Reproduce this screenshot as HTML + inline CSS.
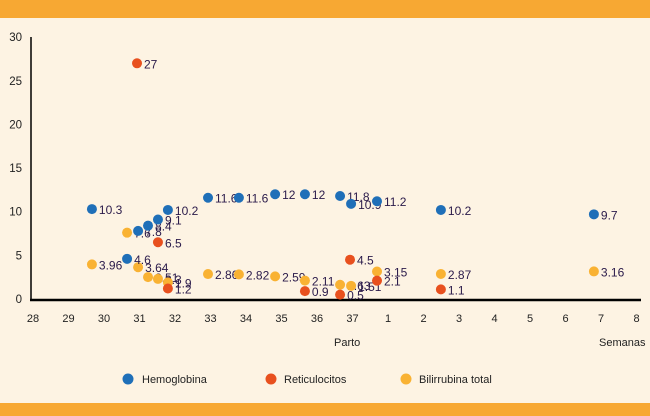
<!DOCTYPE html>
<html><head><meta charset="utf-8"><style>
body{margin:0;background:#fdf3e3;}
svg{display:block;font-family:"Liberation Sans",sans-serif;}
</style></head><body>
<svg width="650" height="416">
<rect width="650" height="416" fill="#fdf3e3"/>
<rect x="0" y="0" width="650" height="18" fill="#f7a833"/>
<rect x="0" y="403" width="650" height="13" fill="#f7a833"/>
<g id="axes"></g><g id="marks"></g>
<text x="334" y="346" font-size="11" fill="#222">Parto</text>
<text x="599" y="346" font-size="11" fill="#222">Semanas</text>
<g font-size="11" fill="#222">
<g><circle cx="128" cy="379" r="5.5" fill="#1f6fb8"/><text x="142" y="383">Hemoglobina</text></g>
<g><circle cx="271" cy="379" r="5.5" fill="#e8501e"/><text x="284" y="383">Reticulocitos</text></g>
<g><circle cx="406" cy="379" r="5.5" fill="#f9b233"/><text x="419" y="383">Bilirrubina total</text></g>
</g>
</svg>
<script>
const xTickLabels=["28","29","30","31","32","33","34","35","36","37","1","2","3","4","5","6","7","8"];
const yTicks=[0,5,10,15,20,25,30];
const hemoX=[1.66,2.65,2.96,3.24,3.52,3.80,4.93,5.80,6.82,7.66,8.65,8.96,9.69,11.49,15.80];
const hemoY=[10.3,4.6,7.8,8.4,9.1,10.2,11.6,11.6,12,12,11.8,10.9,11.2,10.2,9.7];
const retX=[2.93,3.52,3.80,7.66,8.93,9.69,8.65,11.49];
const retY=[27,6.5,1.2,0.9,4.5,2.1,0.5,1.1];
const biliX=[1.66,2.65,2.96,3.24,3.52,3.80,4.93,5.80,6.82,7.66,8.65,8.96,9.69,11.49,15.80];
const biliY=[3.96,7.6,3.64,2.51,2.3,1.9,2.86,2.82,2.59,2.11,1.63,1.51,3.15,2.87,3.16];
const NS="http://www.w3.org/2000/svg";
const xs=i=>33+i*35.5, ys=v=>299-v*8.73;
function mk(t,a,p){const e=document.createElementNS(NS,t);for(const k in a)e.setAttribute(k,a[k]);p.appendChild(e);return e;}
const ax=document.getElementById('axes'), mg=document.getElementById('marks');
let l=mk('line',{x1:31,y1:37,x2:31,y2:300,stroke:'#000','stroke-width':1.5},ax);


l=mk('line',{x1:30,y1:300,x2:641,y2:300,stroke:'#000','stroke-width':2.5},ax);


yTicks.forEach(v=>{const t=mk('text',{x:22,y:ys(v)+4,'font-size':11.5,'text-anchor':'end',fill:'#222'},ax);t.textContent=v;

});
xTickLabels.forEach((s,i)=>{const t=mk('text',{x:xs(i),y:322,'font-size':11,'text-anchor':'middle',fill:'#222'},ax);t.textContent=s;

});
function series(X,Y,col,name){Y.forEach((v,i)=>{const cx=xs(X[i]),cy=ys(v);
const c=mk('circle',{cx:cx,cy:cy,r:5,fill:col},mg);


const t=mk('text',{x:cx+7,y:cy+5,'font-size':12,fill:'#2a1a4a'},mg);t.textContent=v;

});}
series(biliX,biliY,'#f9b233','bilirrubina');
series(hemoX,hemoY,'#1f6fb8','hemoglobina');
series(retX,retY,'#e8501e','reticulocitos');
</script>
</body></html>
